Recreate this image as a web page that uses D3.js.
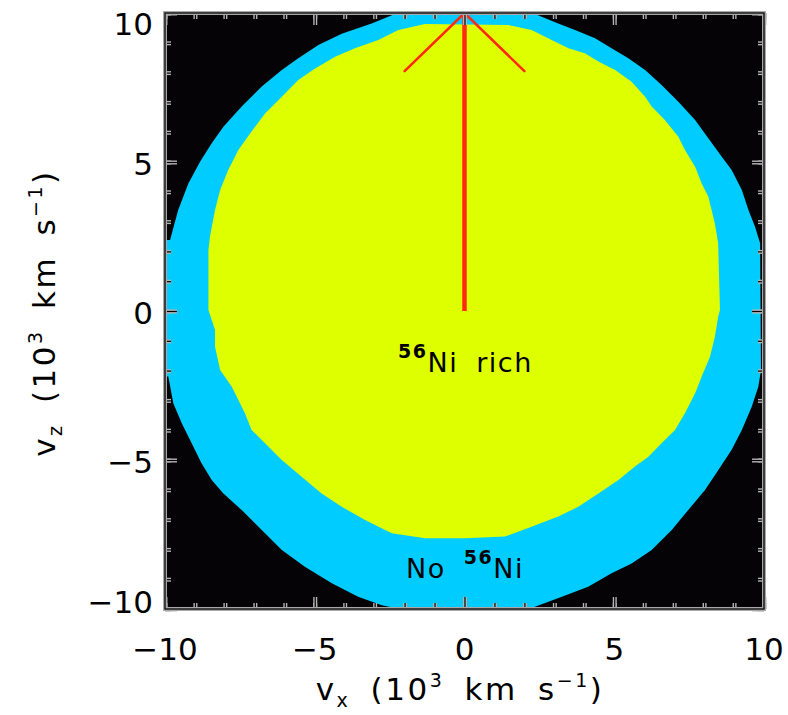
<!DOCTYPE html>
<html>
<head>
<meta charset="utf-8">
<script src="https://cdn.jsdelivr.net/npm/d3@7"></script>
<style>
  html, body { margin: 0; padding: 0; background: #ffffff; }
  svg { display: block; }
  text { font-family: "DejaVu Sans", "Liberation Sans", Arial, sans-serif; fill: #000; }
</style>
</head>
<body>
<svg id="chart" width="788" height="715"></svg>
<script>
// Velocity-space boundaries (units of 10^3 km/s), traced clockwise.
// Outer edge of the ejecta (no 56Ni zone)
const ejectaVx = [-10, -9.83, -9.56, -9.22, -8.83, -8.44, -8.05, -7.44, -6.77, -6.10, -5.55, -4.88, -4.10, -3.10, -2.32,
  2.35, 3.13, 3.69, 4.36, 4.91, 5.47, 6.03, 6.58, 7.14, 7.70, 8.14, 8.59, 8.92, 9.26, 9.48, 9.70, 9.87,
  9.90, 9.81, 9.59, 9.26, 8.92, 8.47, 8.03, 7.47, 6.92, 6.25, 5.58, 4.91, 4.13, 3.25, 2.24,
  -2.32, -2.76, -3.55, -4.43, -5.33, -6.10, -6.77, -7.44, -8.05, -8.44, -8.78, -9.11, -9.44, -9.72, -9.89, -10];
const ejectaVz = [2.38, 2.38, 3.39, 4.28, 5.01, 5.63, 6.18, 6.86, 7.53, 8.09, 8.48, 8.93, 9.30, 9.65, 9.97,
  9.97, 9.65, 9.43, 9.15, 8.82, 8.48, 8.09, 7.58, 7.02, 6.41, 5.80, 5.18, 4.73, 4.06, 3.39, 2.83, 2.27,
  -1.98, -2.54, -3.21, -3.99, -4.66, -5.34, -6.01, -6.68, -7.35, -8.02, -8.47, -8.80, -9.25, -9.59, -9.97,
  -9.97, -9.87, -9.59, -9.14, -8.58, -8.02, -7.35, -6.68, -6.12, -5.67, -5.11, -4.44, -3.77, -3.10, -2.20, -2.20];

// Boundary of the 56Ni-rich core
const coreVx = [-1.32, 1.46, 2.24, 2.91, 3.47, 4.02, 4.47, 5.03, 5.58, 6.03, 6.25, 6.69, 7.14, 7.36, 7.70, 7.92, 8.14, 8.36, 8.47, 8.53,
  8.47, 8.36, 8.20, 7.92, 7.70, 7.36, 7.03, 6.58, 6.14, 5.69, 5.14, 4.47, 3.80, 3.13, 2.24, 1.35, 0.02,
  -1.32, -2.43, -3.32, -4.10, -4.77, -5.44, -6.10, -6.66, -7.11, -7.33, -7.55, -7.77, -8.16, -8.33, -8.33, -8.55,
  -8.55, -8.50, -8.33, -8.16, -7.89, -7.55, -7.16, -6.66, -6.10, -5.55, -4.99, -4.32, -3.66, -2.88, -2.21];
const coreVz = [9.63, 9.60, 9.43, 9.09, 8.82, 8.65, 8.37, 8.09, 7.69, 7.19, 6.86, 6.41, 5.85, 5.40, 4.84, 4.28, 3.84, 2.94, 2.27, 0.03,
  -0.19, -0.86, -1.53, -2.20, -2.76, -3.43, -3.99, -4.44, -4.89, -5.22, -5.67, -6.12, -6.57, -6.90, -7.24, -7.57, -7.63,
  -7.63, -7.46, -7.01, -6.57, -6.12, -5.56, -5.00, -4.44, -3.99, -3.43, -2.99, -2.54, -1.98, -1.20, -0.64, 0.03,
  2.05, 2.49, 3.39, 4.06, 4.73, 5.40, 5.96, 6.63, 7.19, 7.75, 8.14, 8.53, 8.82, 9.09, 9.43];

// Direction arrow: shaft and the two barbs
const arrowShaft = [[0, 0], [0, 10]];
const arrowBarbs = [[[-2, 8.05], [0, 10]], [[2, 8.05], [0, 10]]];

// Axis ticks
const majorTicks = [-10, -5, 0, 5, 10];
const minorTicks = d3.range(-10, 10.5, 1);
const tickLabels = ["\u221210", "\u22125", "0", "5", "10"];

const svg = d3.select("#chart");
const pLeft = 165, pTop = 13, pRight = 764, pBottom = 609;

const x = d3.scaleLinear().domain([-10, 10]).range([pLeft, pRight]);
const y = d3.scaleLinear().domain([-10, 10]).range([pBottom, pTop]);

// Plot background
svg.append("rect")
  .attr("x", pLeft).attr("y", pTop)
  .attr("width", pRight - pLeft).attr("height", pBottom - pTop)
  .attr("fill", "#050305");

svg.append("clipPath").attr("id", "plotClip")
  .append("rect").attr("x", pLeft).attr("y", pTop)
  .attr("width", pRight - pLeft).attr("height", pBottom - pTop);

const area = d3.line().x(d => x(d[0])).y(d => y(d[1])).curve(d3.curveLinearClosed);
const plot = svg.append("g").attr("clip-path", "url(#plotClip)");

plot.append("path")
  .datum(ejectaVx.map((v, i) => [v, ejectaVz[i]]))
  .attr("d", area)
  .attr("fill", "#00ccff");

plot.append("path")
  .datum(coreVx.map((v, i) => [v, coreVz[i]]))
  .attr("d", area)
  .attr("fill", "#ddff00");

// Arrow
const seg = d3.line().x(d => x(d[0])).y(d => y(d[1]));
plot.append("path").datum(arrowShaft).attr("d", seg)
  .attr("stroke", "#ff2a10").attr("stroke-width", 4.5).attr("fill", "none");
arrowBarbs.forEach(b => {
  plot.append("path").datum(b).attr("d", seg)
    .attr("stroke", "#ff2a10").attr("stroke-width", 2.6).attr("fill", "none")
    .attr("stroke-linecap", "round");
});

// Region labels
const lab1 = svg.append("text").attr("x", 398).attr("y", 372)
  .attr("font-size", 27).style("letter-spacing", "1.5px").style("word-spacing", "8px");
lab1.append("tspan").attr("font-size", 19).attr("font-weight", "bold").attr("dy", -14).text("56");
lab1.append("tspan").attr("dy", 14).text("Ni rich");

const lab2 = svg.append("text").attr("x", 406).attr("y", 578)
  .attr("font-size", 27).style("letter-spacing", "1.5px").style("word-spacing", "8px");
lab2.append("tspan").text("No ");
lab2.append("tspan").attr("font-size", 19).attr("font-weight", "bold").attr("dy", -14).text("56");
lab2.append("tspan").attr("dy", 14).text("Ni");

// Frame and inward ticks on all four sides
function styleTicks(g) {
  g.select(".domain").remove();
  g.selectAll(".tick text").remove();
  g.selectAll(".tick line").each(function () {
    const ln = d3.select(this);
    ln.attr("stroke", "#000").attr("stroke-width", 1.2);
    ln.clone(false).lower().attr("stroke", "#b4b4b4").attr("stroke-width", 4);
  });
}
const axes = [
  [() => d3.axisBottom(x), `translate(0,${pBottom})`],
  [() => d3.axisTop(x), `translate(0,${pTop})`],
  [() => d3.axisLeft(y), `translate(${pLeft},0)`],
  [() => d3.axisRight(y), `translate(${pRight},0)`]
];
axes.forEach(([mk, tr]) => {
  svg.append("g").attr("transform", tr)
    .call(mk().tickValues(minorTicks).tickSize(-6)).call(styleTicks);
  svg.append("g").attr("transform", tr)
    .call(mk().tickValues(majorTicks).tickSize(-12)).call(styleTicks);
});

svg.append("rect")
  .attr("x", pLeft).attr("y", pTop)
  .attr("width", pRight - pLeft).attr("height", pBottom - pTop)
  .attr("fill", "none").attr("stroke", "#a8a8a8").attr("stroke-width", 4);
svg.append("rect")
  .attr("x", pLeft).attr("y", pTop)
  .attr("width", pRight - pLeft).attr("height", pBottom - pTop)
  .attr("fill", "none").attr("stroke", "#111").attr("stroke-width", 1.4);

// Tick labels (end labels kept inside the frame's height)
svg.append("g").selectAll("text").data(majorTicks).join("text")
  .attr("x", d => x(d)).attr("y", 660)
  .attr("text-anchor", "middle").attr("font-size", 31)
  .text((d, i) => tickLabels[i]);
svg.append("g").selectAll("text").data(majorTicks).join("text")
  .attr("x", 153).attr("y", d => Math.min(Math.max(y(d), pTop + 9), pBottom - 9) + 2).attr("dy", "0.36em")
  .attr("text-anchor", "end").attr("font-size", 31)
  .text((d, i) => tickLabels[i]);

// Axis titles
function axisTitle(t, sub) {
  t.append("tspan").text("v");
  t.append("tspan").attr("font-size", 19).attr("dy", 7).text(sub);
  t.append("tspan").attr("dy", -7).text(" (10");
  t.append("tspan").attr("font-size", 19).attr("dy", -13).text("3");
  t.append("tspan").attr("dy", 13).text(" km s");
  t.append("tspan").attr("font-size", 19).attr("dy", -13).text("\u22121");
  t.append("tspan").attr("dy", 13).text(")");
}
const xt = svg.append("text").attr("x", 460).attr("y", 700)
  .attr("text-anchor", "middle").attr("font-size", 31)
  .style("letter-spacing", "2.5px").style("word-spacing", "8px");
axisTitle(xt, "x");

const yt = svg.append("text")
  .attr("transform", "translate(55,313) rotate(-90)")
  .attr("text-anchor", "middle").attr("font-size", 31)
  .style("letter-spacing", "2.5px").style("word-spacing", "8px");
axisTitle(yt, "z");
</script>
</body>
</html>
